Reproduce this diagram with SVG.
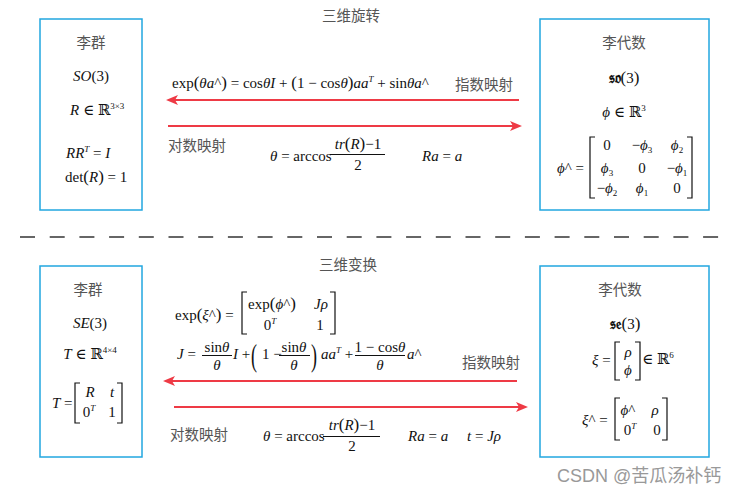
<svg xmlns="http://www.w3.org/2000/svg" width="743" height="494" viewBox="0 0 743 494">
<style>
.m{font-family:"Liberation Serif","DejaVu Serif",serif;font-size:15px;fill:#111}
.i{font-style:italic}
.c{font-family:"Noto Sans CJK SC","Noto Sans",sans-serif;font-size:14.5px;fill:#555}
.sup{font-size:9px}
.sub{font-size:9px}
.bp{font-size:17px}
.hp{font-size:18px}
.box{fill:#fff;stroke:#22a7e0;stroke-width:1.5}
.arr{stroke:#ee3a45;stroke-width:2;fill:none}
.br{fill:none;stroke:#111;stroke-width:1.2}
.fl{stroke:#111;stroke-width:1}
.dash{stroke:#666;stroke-width:2;stroke-dasharray:15 14.7}
.wm{font-family:"Liberation Sans","Noto Sans CJK SC",sans-serif;font-size:18px;fill:#999}
</style>
<defs>
<marker id="ah" viewBox="0 0 12 10" refX="6" refY="5" markerWidth="12" markerHeight="10" markerUnits="userSpaceOnUse" orient="auto">
<path d="M0,0 L12,5 L0,10 L3,5 z" fill="#ee3a45"/>
</marker>
</defs>
<rect width="743" height="494" fill="#fff"/>

<g id="title-rotation"><text class="c" x="351" y="21" text-anchor="middle">三维旋转</text></g>

<g id="lie-group-SO3">
<rect class="box" x="40" y="19" width="102" height="191"/>
<text class="c" x="91" y="47.5" text-anchor="middle">李群</text>
<text class="m" x="91" y="81" text-anchor="middle"><tspan class="i">SO</tspan>(3)</text>
<text class="m" x="70" y="115"><tspan class="i">R</tspan> ∈ ℝ<tspan class="sup" dy="-6">3×3</tspan></text>
<text class="m" x="66" y="158"><tspan class="i">RR</tspan><tspan class="sup i" dy="-6">T</tspan><tspan dy="6"> = </tspan><tspan class="i">I</tspan></text>
<text class="m" x="65" y="182">det<tspan class="bp">(</tspan><tspan class="i">R</tspan><tspan class="bp">)</tspan> = 1</text>
</g>

<g id="lie-algebra-so3">
<rect class="box" x="540" y="19" width="169" height="191"/>
<text class="c" x="624" y="47.5" text-anchor="middle">李代数</text>
<text class="m" x="624" y="83" text-anchor="middle"><tspan font-weight="bold">𝔰𝔬</tspan><tspan class="bp">(</tspan>3<tspan class="bp">)</tspan></text>
<text class="m" x="624" y="117" text-anchor="middle"><tspan class="i">ϕ</tspan> ∈ ℝ<tspan class="sup" dy="-6">3</tspan></text>
<text class="m" x="557" y="173"><tspan class="i">ϕ</tspan>^ =</text>
<path class="br" d="M595,137 H590 V198 H595 M687,137 H692 V198 H687"/>
<text class="m" x="607" y="150" text-anchor="middle">0</text>
<text class="m" x="642" y="150" text-anchor="middle">−<tspan class="i">ϕ</tspan><tspan class="sub" dy="3">3</tspan></text>
<text class="m" x="677" y="150" text-anchor="middle"><tspan class="i">ϕ</tspan><tspan class="sub" dy="3">2</tspan></text>
<text class="m" x="607" y="173" text-anchor="middle"><tspan class="i">ϕ</tspan><tspan class="sub" dy="3">3</tspan></text>
<text class="m" x="642" y="173" text-anchor="middle">0</text>
<text class="m" x="677" y="173" text-anchor="middle">−<tspan class="i">ϕ</tspan><tspan class="sub" dy="3">1</tspan></text>
<text class="m" x="607" y="193" text-anchor="middle">−<tspan class="i">ϕ</tspan><tspan class="sub" dy="3">2</tspan></text>
<text class="m" x="642" y="193" text-anchor="middle"><tspan class="i">ϕ</tspan><tspan class="sub" dy="3">1</tspan></text>
<text class="m" x="677" y="193" text-anchor="middle">0</text>
</g>

<g id="formulas-rotation">
<text class="m" x="172" y="88">exp<tspan class="bp">(</tspan><tspan class="i">θa</tspan>^<tspan class="bp">)</tspan> = cos<tspan class="i">θI</tspan> + <tspan class="bp">(</tspan>1 − cos<tspan class="i">θ</tspan><tspan class="bp">)</tspan><tspan class="i">aa</tspan><tspan class="sup i" dy="-6">T</tspan><tspan dy="6"> + sin</tspan><tspan class="i">θa</tspan>^</text>
<text class="c" x="455" y="90">指数映射</text>
<text class="c" x="168" y="151">对数映射</text>
<text class="m" x="270" y="161"><tspan class="i">θ</tspan> = arccos</text>
<text class="m" x="358" y="149" text-anchor="middle"><tspan class="i">tr</tspan><tspan class="bp">(</tspan><tspan class="i">R</tspan><tspan class="bp">)</tspan>−1</text>
<line class="fl" x1="330" y1="154.5" x2="385" y2="154.5"/>
<text class="m" x="358" y="170" text-anchor="middle">2</text>
<text class="m" x="422" y="161"><tspan class="i">Ra</tspan> = <tspan class="i">a</tspan></text>
</g>

<g id="separator"><line class="dash" x1="20" y1="237" x2="720" y2="237"/></g>

<g id="title-transform"><text class="c" x="348" y="269.5" text-anchor="middle">三维变换</text></g>

<g id="lie-group-SE3">
<rect class="box" x="40" y="266" width="102" height="191"/>
<text class="c" x="88" y="294.5" text-anchor="middle">李群</text>
<text class="m" x="90" y="328" text-anchor="middle"><tspan class="i">SE</tspan>(3)</text>
<text class="m" x="90" y="359" text-anchor="middle"><tspan class="i">T</tspan> ∈ ℝ<tspan class="sup" dy="-6">4×4</tspan></text>
<text class="m" x="52" y="408"><tspan class="i">T</tspan> =</text>
<path class="br" d="M80,383 H75 V423 H80 M117,383 H122 V423 H117"/>
<text class="m i" x="90" y="397" text-anchor="middle">R</text>
<text class="m i" x="112" y="397" text-anchor="middle">t</text>
<text class="m" x="89" y="417" text-anchor="middle">0<tspan class="sup i" dy="-6">T</tspan></text>
<text class="m" x="112" y="417" text-anchor="middle">1</text>
</g>

<g id="lie-algebra-se3">
<rect class="box" x="540" y="266" width="169" height="191"/>
<text class="c" x="620" y="294.5" text-anchor="middle">李代数</text>
<text class="m" x="625" y="329" text-anchor="middle"><tspan font-weight="bold">𝔰𝔢</tspan><tspan class="bp">(</tspan>3<tspan class="bp">)</tspan></text>
<text class="m" x="592" y="365"><tspan class="i">ξ</tspan> =</text>
<path class="br" d="M620,342 H615 V380 H620 M635,342 H640 V380 H635"/>
<text class="m i" x="628" y="357" text-anchor="middle">ρ</text>
<text class="m i" x="628" y="375" text-anchor="middle">ϕ</text>
<text class="m" x="642" y="364">∈ ℝ<tspan class="sup" dy="-6">6</tspan></text>
<text class="m" x="582" y="425"><tspan class="i">ξ</tspan>^ =</text>
<path class="br" d="M620,398 H615 V440 H620 M662,398 H667 V440 H662"/>
<text class="m" x="628" y="415" text-anchor="middle"><tspan class="i">ϕ</tspan>^</text>
<text class="m i" x="655" y="415" text-anchor="middle">ρ</text>
<text class="m" x="630" y="435" text-anchor="middle">0<tspan class="sup i" dy="-6">T</tspan></text>
<text class="m" x="657" y="435" text-anchor="middle">0</text>
</g>

<g id="formulas-transform">
<text class="m" x="175" y="320">exp<tspan class="bp">(</tspan><tspan class="i">ξ</tspan>^<tspan class="bp">)</tspan> =</text>
<path class="br" d="M247,292 H242 V334 H247 M330,292 H335 V334 H330"/>
<text class="m" x="272" y="309" text-anchor="middle">exp<tspan class="bp">(</tspan><tspan class="i">ϕ</tspan>^<tspan class="bp">)</tspan></text>
<text class="m i" x="321" y="309" text-anchor="middle">Jρ</text>
<text class="m" x="270" y="330" text-anchor="middle">0<tspan class="sup i" dy="-6">T</tspan></text>
<text class="m" x="320" y="330" text-anchor="middle">1</text>
<text class="m" x="177" y="359"><tspan class="i">J</tspan> =</text>
<text class="m" x="217" y="352" text-anchor="middle">sin<tspan class="i">θ</tspan></text>
<line class="fl" x1="202" y1="355.5" x2="232" y2="355.5"/>
<text class="m i" x="217" y="370" text-anchor="middle">θ</text>
<text class="m" x="233" y="359"><tspan class="i">I</tspan> +</text>
<text class="m hp" transform="translate(251,366) scale(1,1.8)">(</text>
<text class="m" x="262" y="359">1 −</text>
<text class="m" x="294" y="352" text-anchor="middle">sin<tspan class="i">θ</tspan></text>
<line class="fl" x1="279" y1="355.5" x2="310" y2="355.5"/>
<text class="m i" x="294" y="370" text-anchor="middle">θ</text>
<text class="m hp" transform="translate(311,366) scale(1,1.8)">)</text>
<text class="m" x="321" y="359"><tspan class="i">aa</tspan><tspan class="sup i" dy="-6">T</tspan><tspan dy="6"> +</tspan></text>
<text class="m" x="380" y="352" text-anchor="middle">1 − cos<tspan class="i">θ</tspan></text>
<line class="fl" x1="355" y1="355.5" x2="405" y2="355.5"/>
<text class="m i" x="380" y="370" text-anchor="middle">θ</text>
<text class="m" x="407" y="359"><tspan class="i">a</tspan>^</text>
<text class="c" x="462" y="368">指数映射</text>
<text class="c" x="170" y="440">对数映射</text>
<text class="m" x="263" y="441"><tspan class="i">θ</tspan> = arccos</text>
<text class="m" x="352" y="430" text-anchor="middle"><tspan class="i">tr</tspan><tspan class="bp">(</tspan><tspan class="i">R</tspan><tspan class="bp">)</tspan>−1</text>
<line class="fl" x1="323" y1="436.5" x2="380" y2="436.5"/>
<text class="m" x="352" y="451" text-anchor="middle">2</text>
<text class="m" x="408" y="441"><tspan class="i">Ra</tspan> = <tspan class="i">a</tspan></text>
<text class="m" x="467" y="441"><tspan class="i">t</tspan> = <tspan class="i">Jρ</tspan></text>
</g>

<g id="connectors">
<line class="arr" x1="519" y1="100" x2="172" y2="100" marker-end="url(#ah)"/>
<line class="arr" x1="168" y1="126" x2="516" y2="126" marker-end="url(#ah)"/>
<line class="arr" x1="517" y1="381" x2="169" y2="381" marker-end="url(#ah)"/>
<line class="arr" x1="174" y1="407" x2="522" y2="407" marker-end="url(#ah)"/>
</g>

<g id="watermark"><text class="wm" x="557" y="482">CSDN @苦瓜汤补钙</text></g>
</svg>
